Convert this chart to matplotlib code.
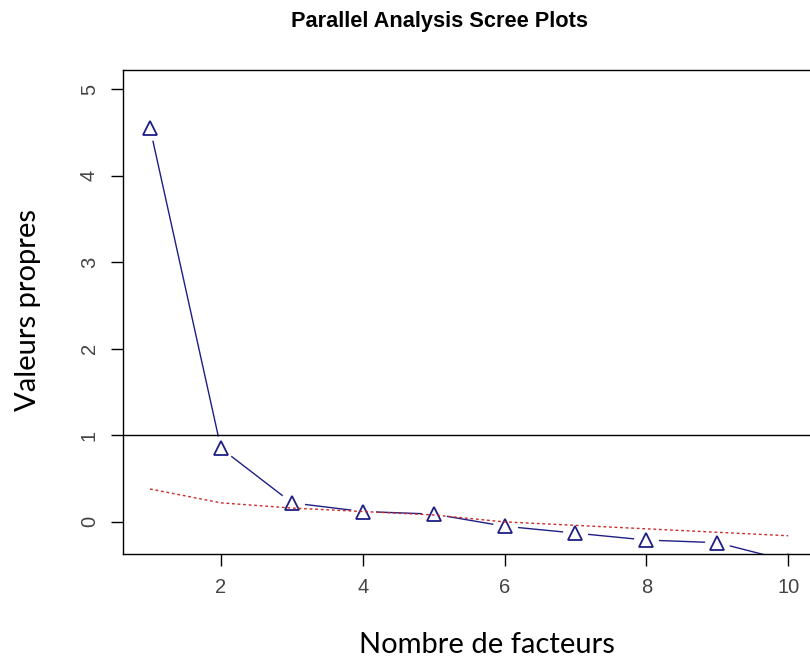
import matplotlib.pyplot as plt
import numpy as np

# factor number on the x axis
factors = [1, 2, 3, 4, 5, 6, 7, 8, 9, 10]

# observed eigenvalues (blue triangles)
observed = [4.55, 0.85, 0.22, 0.12, 0.09, -0.05, -0.13, -0.21, -0.24, -0.45]

# simulated / resampled eigenvalues (red dotted)
simulated = [0.38, 0.22, 0.16, 0.12, 0.08, 0.00, -0.04, -0.08, -0.12, -0.16]

xticks = [2, 4, 6, 8, 10]
yticks = [0, 1, 2, 3, 4, 5]

blue = '#1e1e85'
red = '#cc2a2a'

fig = plt.figure(figsize=(8.1, 6.61), dpi=100)
ax = fig.add_axes([0.152, 0.162, 0.8526, 0.732])

# R-style type="b": line with gaps round the points
ax.plot(factors, observed, color=blue, lw=1.0, zorder=2)
ax.plot(factors, observed, 'o', ms=18, mfc='white', mec='none', zorder=2.05)
ax.plot(factors, observed, '^', ms=10.5, mfc='none', mec=blue, mew=1.3, zorder=2.1)

ax.axhline(1, color='black', lw=1.0, zorder=2.2)
ax.plot(factors, simulated, color=red, lw=1.0, dashes=(2, 2), zorder=2.3)

ax.set_xlim(0.62, 10.36)
ax.set_ylim(-0.37, 5.22)
ax.set_xticks(xticks)
ax.set_yticks(yticks)

ax.tick_params(axis='both', direction='out', length=8.5, width=1.0,
               labelsize=14.5, colors='black')
ax.tick_params(axis='x', pad=9)
ax.tick_params(axis='y', pad=9)
for lab in ax.get_xticklabels() + ax.get_yticklabels():
    lab.set_family('Liberation Sans')
    lab.set_color('#444444')
for lab in ax.get_yticklabels():
    lab.set_rotation(90)
    lab.set_va('center')

for s in ax.spines.values():
    s.set_linewidth(1.0)

fig.text(0.543, 0.968, 'Parallel Analysis Scree Plots', ha='center', va='center',
         fontsize=15.7, fontweight='bold', family='Liberation Sans')
fig.text(0.601, 0.024, 'Nombre de facteurs', ha='center', va='center',
         fontsize=21, family='Lato')
fig.text(0.034, 0.531, 'Valeurs propres', ha='center', va='center',
         rotation=90, fontsize=21, family='Lato')

fig.savefig('out.png', dpi=100)
